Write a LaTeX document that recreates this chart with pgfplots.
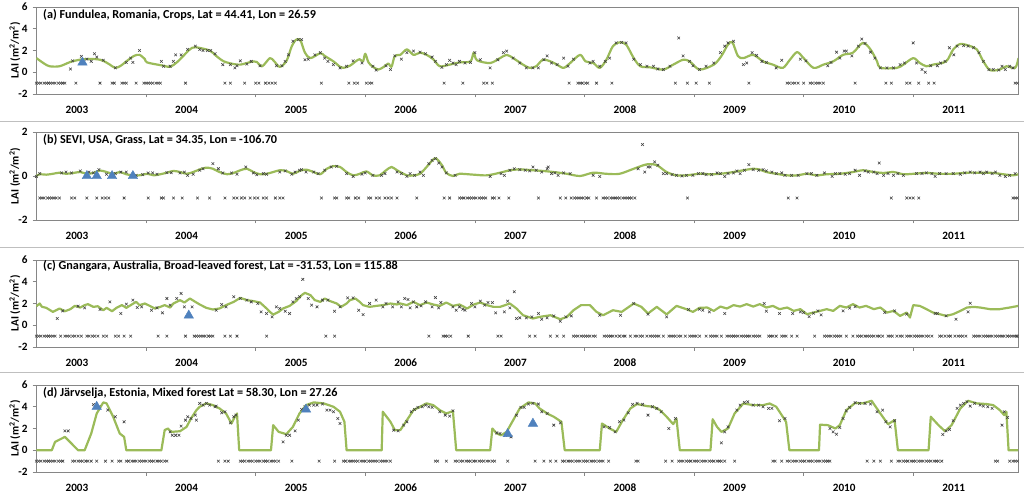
\documentclass[border=0pt]{standalone}
\usepackage{fontspec}
\setmainfont{Carlito}
\usepackage{pgfplots}
\pgfplotsset{compat=1.18}

\definecolor{lgreen}{HTML}{9BBB59}
\definecolor{tblue}{HTML}{4F81BD}
\definecolor{xgray}{HTML}{404040}
\definecolor{axgray}{HTML}{868686}
\definecolor{sepgray}{HTML}{BFBFBF}

\newcommand\ticfont{\fontsize{11.2}{12}\selectfont\bfseries}
\newcommand\ttlfont{\fontsize{12.2}{14}\selectfont\bfseries}

\pgfplotsset{
  panel/.style={
    scale only axis, width=982pt, height=87pt,
    xmin=2002.626, xmax=2011.586,
    axis line style={axgray, line width=0.6pt},
    tick pos=left, tick align=outside,
    major tick length=0pt, minor tick length=3.5pt,
    tick style={axgray, line width=0.6pt},
    xtick={2003,2004,2005,2006,2007,2008,2009,2010,2011},
    xticklabels={2003,2004,2005,2006,2007,2008,2009,2010,2011},
    minor xtick={2003.63,2004.63,2005.63,2006.63,2007.63,2008.63,2009.63,2010.63},
    xticklabel style={font=\ticfont, yshift=-8.5pt},
    yticklabel style={font=\ticfont, xshift=-5pt},
    ylabel={LAI (m\textsuperscript{2}/m\textsuperscript{2})},
    every axis y label/.style={at={(axis description cs:0,0.5)}, xshift=-21pt,
      rotate=90, anchor=center, font=\fontsize{11.2}{13}\selectfont\bfseries},
    anchor=south west,
  },
  lai/.style={lgreen, line width=2.2pt, no marks, line join=round},
  obs/.style={only marks, mark=x, mark size=1.9pt, mark options={xgray, line width=0.55pt}},
  tri/.style={only marks, mark=triangle*, mark size=5.5pt, mark options={fill=tblue, draw=tblue}},
}

\begin{document}
\begin{tikzpicture}

% ---------------- (a) ----------------
\begin{axis}[panel, at={(36pt,399pt)},
  ymin=-2, ymax=6, ytick={-2,0,2,4,6}, yticklabels={-2,0,2,4,6}, minor ytick={-2,0,2,4,6}]
\addplot[lai, smooth, tension=0.5] coordinates {
(2002.63,1.3)(2002.70,0.8)(2002.75,0.55)(2002.84,0.55)(2002.94,0.95)(2003.00,1.1)(2003.06,1.2)
(2003.18,1.2)(2003.24,1.05)(2003.30,0.7)(2003.35,0.4)(2003.40,0.6)(2003.45,1.0)(2003.52,1.5)
(2003.57,1.6)(2003.62,1.2)(2003.64,0.9)(2003.79,0.6)(2003.85,0.5)(2003.91,0.9)(2003.97,1.5)
(2004.03,2.1)(2004.08,2.3)(2004.21,2.0)(2004.27,1.5)(2004.34,1.0)(2004.43,0.75)(2004.49,0.7)
(2004.55,0.85)(2004.61,1.0)(2004.64,0.95)(2004.69,0.55)(2004.76,1.3)(2004.80,1.0)(2004.85,0.5)
(2004.91,1.0)(2004.96,2.4)(2005.00,3.0)(2005.04,2.9)(2005.08,1.8)(2005.13,1.3)(2005.22,1.75)
(2005.26,1.5)(2005.34,1.0)(2005.40,0.5)(2005.43,0.4)(2005.49,0.6)(2005.55,1.05)(2005.58,1.2)
(2005.61,1.0)(2005.63,1.7)(2005.66,0.9)(2005.70,0.5)(2005.75,0.25)(2005.80,0.5)(2005.84,0.8)
(2005.87,0.5)(2005.90,1.5)(2005.95,1.6)(2006.01,2.1)(2006.07,1.6)(2006.13,1.8)(2006.19,1.6)
(2006.25,1.2)(2006.31,0.55)(2006.40,0.7)(2006.49,0.9)(2006.59,1.0)(2006.62,1.8)(2006.65,1.1)
(2006.77,0.85)(2006.86,1.3)(2006.92,1.6)(2006.98,1.3)(2007.07,0.7)(2007.13,0.4)(2007.19,0.55)
(2007.25,1.15)(2007.32,1.0)(2007.38,0.7)(2007.44,0.4)(2007.50,0.85)(2007.59,1.6)(2007.64,1.0)
(2007.71,0.85)(2007.77,0.4)(2007.83,1.15)(2007.89,2.4)(2007.95,2.75)(2008.01,2.55)(2008.08,1.3)
(2008.14,0.55)(2008.23,0.45)(2008.35,0.25)(2008.44,0.7)(2008.53,1.15)(2008.59,1.0)(2008.68,0.25)
(2008.81,0.7)(2008.88,1.5)(2008.94,2.55)(2008.98,2.75)(2009.03,1.5)(2009.08,1.3)(2009.17,1.6)
(2009.26,1.0)(2009.35,0.7)(2009.44,0.4)(2009.505,1.15)(2009.57,1.85)(2009.63,1.3)(2009.72,0.4)
(2009.81,0.7)(2009.90,1.0)(2009.99,1.6)(2010.08,1.8)(2010.17,2.7)(2010.24,2.1)(2010.30,1.0)
(2010.33,0.4)(2010.48,0.4)(2010.54,0.7)(2010.63,1.3)(2010.69,0.85)(2010.75,0.55)(2010.81,0.7)
(2010.93,1.0)(2010.995,2.1)(2011.06,2.6)(2011.15,2.4)(2011.21,2.1)(2011.27,1.0)(2011.33,0.2)
(2011.42,0.25)(2011.48,0.55)(2011.56,0.4)(2011.59,1.3)
};
\addplot[obs] coordinates {
(2002.94,0.3)(2002.96,1.05)(2003.04,1.45)(2003.09,1.2)(2003.13,1.0)(2003.16,1.7)(2003.18,1.4)
(2003.24,1.1)(2003.35,0.4)(2003.45,0.9)(2003.49,1.3)(2003.51,0.9)(2003.57,2.0)(2003.77,1.0)
(2003.79,0.55)(2003.85,0.55)(2003.88,1.0)(2003.90,1.6)(2003.95,1.6)(2004.01,2.1)(2004.08,2.4)
(2004.12,2.1)(2004.15,2.0)(2004.19,2.0)(2004.22,2.0)(2004.26,1.7)(2004.33,0.7)(2004.40,0.7)
(2004.44,0.4)(2004.46,0.6)(2004.49,1.05)(2004.55,0.75)(2004.59,1.0)(2004.67,0.6)(2004.82,0.6)
(2004.87,0.6)(2004.90,1.0)(2004.93,1.6)(2004.97,2.85)(2005.02,3.0)(2005.05,3.0)(2005.08,1.15)
(2005.11,1.2)(2005.17,1.6)(2005.22,1.8)(2005.26,1.3)(2005.29,1.0)(2005.34,0.7)(2005.40,0.4)
(2005.46,0.55)(2005.52,1.05)(2005.60,0.85)(2005.70,0.55)(2005.73,0.2)(2005.82,0.6)(2005.86,0.25)
(2005.90,1.5)(2005.96,1.2)(2006.01,1.8)(2006.07,1.95)(2006.13,1.85)(2006.18,1.7)(2006.24,1.4)
(2006.27,1.0)(2006.33,0.45)(2006.37,0.7)(2006.40,1.1)(2006.43,0.85)(2006.46,0.7)(2006.49,1.0)
(2006.54,0.85)(2006.59,0.9)(2006.63,1.8)(2006.68,1.15)(2006.77,0.4)(2006.84,1.15)(2006.89,1.8)
(2006.92,1.95)(2006.98,1.3)(2007.04,0.85)(2007.10,0.4)(2007.16,0.4)(2007.21,0.4)(2007.26,1.15)
(2007.29,1.5)(2007.33,0.85)(2007.38,0.7)(2007.44,1.3)(2007.48,0.55)(2007.53,1.2)(2007.68,0.85)
(2007.71,1.0)(2007.77,0.55)(2007.82,1.0)(2007.86,1.3)(2007.92,2.7)(2007.97,2.75)(2008.01,2.7)
(2008.08,1.2)(2008.14,0.7)(2008.20,0.55)(2008.26,0.55)(2008.30,0.3)(2008.35,0.25)(2008.41,0.55)
(2008.49,3.15)(2008.53,1.5)(2008.59,1.0)(2008.62,0.6)(2008.68,0.25)(2008.74,0.55)(2008.81,0.85)
(2008.87,1.8)(2008.91,2.4)(2008.94,2.7)(2008.99,2.85)(2009.08,0.7)(2009.11,0.85)(2009.16,1.8)
(2009.20,1.55)(2009.25,1.0)(2009.29,0.9)(2009.38,0.4)(2009.43,1.1)(2009.60,1.2)(2009.65,1.05)
(2009.85,0.6)(2009.88,0.9)(2009.93,1.85)(2009.96,1.3)(2010.00,1.95)(2010.02,1.95)(2010.07,1.5)
(2010.13,2.4)(2010.16,3.05)(2010.19,2.65)(2010.24,1.85)(2010.28,1.3)(2010.33,0.4)(2010.39,0.4)
(2010.45,0.4)(2010.51,0.7)(2010.55,0.85)(2010.63,2.7)(2010.66,0.85)(2010.71,0.25)(2010.74,0.0)
(2010.79,0.6)(2010.85,0.6)(2010.88,0.85)(2010.92,1.0)(2010.96,2.25)(2011.00,1.6)(2011.03,2.4)
(2011.09,2.45)(2011.13,2.4)(2011.18,2.25)(2011.23,1.8)(2011.27,1.0)(2011.32,0.25)(2011.36,0.25)
(2011.41,0.2)(2011.44,0.55)(2011.47,0.25)(2011.51,0.55)(2011.54,0.4)
};
\addplot[obs] coordinates {
(2002.63,-1)(2002.65,-1)(2002.67,-1)(2002.70,-1)(2002.72,-1)(2002.74,-1)(2002.76,-1)(2002.78,-1)
(2002.80,-1)(2002.83,-1)(2002.85,-1)(2002.87,-1)(2002.89,-1)(2002.99,-1)(2003.21,-1)(2003.32,-1)
(2003.34,-1)(2003.41,-1)(2003.43,-1)(2003.45,-1)(2003.54,-1)(2003.61,-1)(2003.63,-1)(2003.65,-1)
(2003.67,-1)(2003.69,-1)(2003.72,-1)(2003.74,-1)(2003.76,-1)(2003.99,-1)(2004.35,-1)(2004.40,-1)
(2004.53,-1)(2004.63,-1)(2004.66,-1)(2004.72,-1)(2004.75,-1)(2004.78,-1)(2004.81,-1)(2005.23,-1)
(2005.48,-1)(2005.53,-1)(2005.56,-1)(2005.64,-1)(2005.67,-1)(2005.69,-1)(2006.35,-1)(2006.52,-1)
(2006.71,-1)(2006.74,-1)(2006.79,-1)(2007.49,-1)(2007.57,-1)(2007.59,-1)(2007.61,-1)(2007.64,-1)
(2007.66,-1)(2007.74,-1)(2007.88,-1)(2008.46,-1)(2008.57,-1)(2008.65,-1)(2008.77,-1)(2009.13,-1)
(2009.48,-1)(2009.50,-1)(2009.53,-1)(2009.55,-1)(2009.58,-1)(2009.63,-1)(2009.69,-1)(2009.71,-1)
(2009.74,-1)(2009.76,-1)(2009.78,-1)(2009.81,-1)(2010.10,-1)(2010.38,-1)(2010.43,-1)(2010.57,-1)
(2010.60,-1)(2010.68,-1)(2010.77,-1)(2010.82,-1)(2011.56,-1)(2011.58,-1)
};
\addplot[tri] coordinates {(2003.05,0.9)};
\node[anchor=west, inner sep=0pt, font=\ttlfont] at (rel axis cs:0,1) [xshift=7pt, yshift=-8pt]
  {(a) Fundulea, Romania, Crops, Lat = 44.41, Lon = 26.59};
\end{axis}

% ---------------- (b) ----------------
\begin{axis}[panel, at={(36pt,273pt)}, height=88pt,
  ymin=-2, ymax=2, ytick={-2,0,2}, yticklabels={-2,0,2}, minor ytick={-2,0,2}]
\addplot[lai, smooth, tension=0.5] coordinates {
(2002.63,0)(2002.66,0.08)(2002.72,0.06)(2002.78,0.1)(2002.84,0.15)(2002.90,0.1)(2002.97,0.14)
(2003.03,0.18)(2003.09,0.1)(2003.15,0.14)(2003.21,0.25)(2003.27,0.18)(2003.33,0.1)(2003.39,0.18)
(2003.45,0.08)(2003.51,0.03)(2003.57,0.03)(2003.64,0.1)(2003.70,0.03)(2003.76,0.08)(2003.82,0.15)
(2003.88,0.23)(2003.94,0.18)(2004.00,0.1)(2004.06,0.18)(2004.12,0.3)(2004.18,0.38)(2004.24,0.33)
(2004.30,0.18)(2004.37,0.08)(2004.43,0.14)(2004.49,0.26)(2004.55,0.33)(2004.61,0.18)(2004.67,0.08)
(2004.73,0.1)(2004.79,0.18)(2004.85,0.26)(2004.91,0.23)(2004.97,0.1)(2005.03,0.23)(2005.09,0.29)
(2005.16,0.18)(2005.22,0.08)(2005.28,0.33)(2005.34,0.45)(2005.40,0.41)(2005.46,0.18)(2005.52,0.03)
(2005.58,0.1)(2005.64,0.21)(2005.70,0.03)(2005.76,0.03)(2005.82,0.26)(2005.87,0.41)(2005.92,0.26)
(2006.01,0.03)(2006.07,0.03)(2006.13,0.1)(2006.19,0.41)(2006.25,0.75)(2006.28,0.79)(2006.33,0.49)
(2006.37,0.14)(2006.43,0.0)(2006.49,0.1)(2006.62,0.06)(2006.74,0.03)(2006.86,0.15)(2006.95,0.26)
(2007.04,0.3)(2007.16,0.26)(2007.25,0.23)(2007.35,0.18)(2007.47,0.1)(2007.59,0.0)(2007.71,0.15)
(2007.83,0.1)(2007.95,0.1)(2008.08,0.33)(2008.20,0.53)(2008.29,0.49)(2008.38,0.18)(2008.47,0.03)
(2008.56,0.03)(2008.68,0.1)(2008.78,0.08)(2008.87,0.1)(2008.99,0.18)(2009.08,0.26)(2009.17,0.33)
(2009.23,0.29)(2009.29,0.18)(2009.38,0.1)(2009.48,0.03)(2009.57,0.03)(2009.66,0.1)(2009.75,0.03)
(2009.84,0.08)(2009.96,0.1)(2010.08,0.18)(2010.17,0.26)(2010.27,0.18)(2010.36,0.14)(2010.45,0.18)
(2010.54,0.08)(2010.63,0.1)(2010.75,0.14)(2010.87,0.1)(2010.995,0.1)(2011.12,0.15)(2011.24,0.15)
(2011.36,0.14)(2011.45,0.08)(2011.54,0.03)(2011.59,0.08)
};
\addplot[obs] coordinates {
(2002.63,-0.02)(2002.66,0.11)(2002.86,0.14)(2002.90,0.18)(2002.95,0.14)(2003.03,0.23)(2003.11,0.18)
(2003.15,0.14)(2003.20,0.29)(2003.27,0.08)(2003.35,0.11)(2003.40,0.18)(2003.45,0.18)(2003.50,0.03)
(2003.54,0.03)(2003.60,0.06)(2003.65,0.14)(2003.69,0.14)(2003.73,0.08)(2003.82,0.15)(2003.86,0.15)
(2003.94,0.14)(2003.98,0.18)(2004.01,0.03)(2004.06,0.08)(2004.12,0.26)(2004.15,0.33)(2004.24,0.56)
(2004.29,0.33)(2004.33,0.14)(2004.41,0.14)(2004.46,0.08)(2004.54,0.41)(2004.61,0.14)(2004.64,0.06)
(2004.70,0.11)(2004.73,0.08)(2004.85,0.18)(2004.90,0.23)(2004.96,0.08)(2004.99,0.18)(2005.03,0.26)
(2005.05,0.29)(2005.09,0.18)(2005.16,0.18)(2005.20,0.11)(2005.26,0.26)(2005.32,0.41)(2005.37,0.44)
(2005.46,0.11)(2005.52,-0.02)(2005.60,0.08)(2005.63,0.14)(2005.70,0.03)(2005.78,0.03)(2005.81,0.11)
(2005.92,0.18)(2005.96,0.11)(2006.01,-0.02)(2006.04,0.11)(2006.08,0.03)(2006.13,0.18)(2006.16,0.03)
(2006.21,0.56)(2006.24,0.71)(2006.27,0.79)(2006.30,0.59)(2006.33,0.41)(2006.37,0.14)(2006.45,0.03)
(2006.77,-0.02)(2006.87,0.11)(2006.90,0.03)(2006.95,0.26)(2006.99,0.33)(2007.04,0.29)(2007.09,0.26)
(2007.13,0.23)(2007.16,0.41)(2007.19,0.26)(2007.24,0.18)(2007.29,0.33)(2007.30,0.41)(2007.33,0.11)
(2007.36,0.14)(2007.39,0.03)(2007.44,0.14)(2007.50,0.11)(2007.71,0.03)(2007.77,-0.02)(2008.12,0.33)
(2008.16,1.43)(2008.18,0.18)(2008.21,0.41)(2008.23,0.41)(2008.27,0.64)(2008.30,0.49)(2008.35,0.11)
(2008.38,0.11)(2008.43,0.06)(2008.47,0.03)(2008.52,0.0)(2008.56,0.03)(2008.62,0.03)(2008.67,0.11)
(2008.71,0.11)(2008.74,0.06)(2008.79,0.06)(2008.84,0.14)(2008.87,0.11)(2008.91,-0.02)(2008.94,0.11)
(2008.99,0.14)(2009.02,0.23)(2009.05,0.11)(2009.09,0.26)(2009.13,0.52)(2009.17,0.29)(2009.22,0.26)
(2009.26,0.29)(2009.29,0.23)(2009.34,0.18)(2009.38,0.11)(2009.43,0.14)(2009.46,0.03)(2009.52,0.03)
(2009.58,0.03)(2009.66,0.11)(2009.70,0.11)(2009.75,0.03)(2009.82,0.14)(2009.89,-0.02)(2009.92,0.11)
(2009.96,0.11)(2010.01,0.08)(2010.05,0.11)(2010.10,0.26)(2010.14,0.03)(2010.19,0.23)(2010.22,0.18)
(2010.27,0.18)(2010.30,0.11)(2010.32,0.59)(2010.36,0.03)(2010.40,0.11)(2010.45,0.03)(2010.49,0.11)
(2010.54,0.03)(2010.66,0.11)(2010.71,0.11)(2010.75,0.14)(2010.80,0.11)(2010.83,-0.02)(2010.87,0.11)
(2010.93,0.11)(2010.995,0.11)(2011.06,0.08)(2011.10,0.14)(2011.15,0.18)(2011.19,0.14)(2011.24,0.18)
(2011.27,0.11)(2011.30,0.18)(2011.35,0.11)(2011.38,0.18)(2011.42,0.03)(2011.47,-0.02)(2011.51,0.03)
(2011.56,0.11)
};
\addplot[obs] coordinates {
(2002.66,-1)(2002.68,-1)(2002.70,-1)(2002.73,-1)(2002.75,-1)(2002.77,-1)(2002.79,-1)(2002.81,-1)
(2002.84,-1)(2002.95,-1)(2002.98,-1)(2003.09,-1)(2003.18,-1)(2003.23,-1)(2003.26,-1)(2003.29,-1)
(2003.43,-1)(2003.65,-1)(2003.77,-1)(2003.79,-1)(2003.88,-1)(2003.96,-1)(2004.10,-1)(2004.21,-1)
(2004.35,-1)(2004.43,-1)(2004.46,-1)(2004.50,-1)(2004.53,-1)(2004.58,-1)(2004.62,-1)(2004.65,-1)
(2004.70,-1)(2004.73,-1)(2004.81,-1)(2004.85,-1)(2004.88,-1)(2005.23,-1)(2005.35,-1)(2005.37,-1)
(2005.46,-1)(2005.48,-1)(2005.54,-1)(2005.57,-1)(2005.66,-1)(2005.68,-1)(2005.73,-1)(2005.76,-1)
(2005.81,-1)(2005.84,-1)(2005.87,-1)(2005.92,-1)(2006.10,-1)(2006.35,-1)(2006.40,-1)(2006.49,-1)
(2006.51,-1)(2006.53,-1)(2006.56,-1)(2006.58,-1)(2006.60,-1)(2006.62,-1)(2006.64,-1)(2006.67,-1)
(2006.69,-1)(2006.71,-1)(2006.73,-1)(2006.79,-1)(2006.81,-1)(2006.85,-1)(2006.94,-1)(2007.21,-1)
(2007.41,-1)(2007.46,-1)(2007.51,-1)(2007.54,-1)(2007.56,-1)(2007.58,-1)(2007.60,-1)(2007.62,-1)
(2007.65,-1)(2007.67,-1)(2007.74,-1)(2007.80,-1)(2007.82,-1)(2007.84,-1)(2007.87,-1)(2007.89,-1)
(2007.91,-1)(2007.93,-1)(2007.95,-1)(2007.98,-1)(2008.00,-1)(2008.02,-1)(2008.04,-1)(2008.06,-1)
(2008.09,-1)(2008.57,-1)(2009.49,-1)(2009.57,-1)(2010.43,-1)(2010.57,-1)(2010.60,-1)(2010.63,-1)
(2010.68,-1)(2011.54,-1)(2011.56,-1)(2011.58,-1)
};
\addplot[tri] coordinates {(2003.09,0.0)(2003.18,0.0)(2003.32,0.0)(2003.51,0.0)};
\node[anchor=west, inner sep=0pt, font=\ttlfont] at (rel axis cs:0,1) [xshift=7pt, yshift=-7.5pt]
  {(b) SEVI, USA, Grass, Lat = 34.35, Lon = -106.70};
\end{axis}

% ---------------- (c) ----------------
\begin{axis}[panel, at={(36pt,146pt)},
  ymin=-2, ymax=6, ytick={-2,0,2,4,6}, yticklabels={-2,0,2,4,6}, minor ytick={-2,0,2,4,6}]
\addplot[lai] coordinates {
(2002.63,1.75)(2002.66,2.0)(2002.68,1.7)(2002.72,1.6)(2002.78,1.23)(2002.81,1.38)(2002.84,1.54)
(2002.89,1.29)(2002.94,1.48)(2002.98,1.78)(2003.03,1.63)(2003.07,1.85)(2003.10,1.94)(2003.15,1.69)
(2003.19,1.75)(2003.24,1.38)(2003.27,1.6)(2003.32,1.29)(2003.36,1.6)(2003.41,1.85)(2003.45,1.6)
(2003.50,1.91)(2003.54,2.15)(2003.57,1.85)(2003.62,2.0)(2003.67,1.75)(2003.71,1.54)(2003.76,1.69)
(2003.80,1.85)(2003.85,1.63)(2003.88,2.0)(2003.94,2.31)(2003.98,2.09)(2004.03,2.46)(2004.08,2.15)
(2004.12,1.91)(2004.18,1.6)(2004.24,1.45)(2004.30,1.54)(2004.36,1.85)(2004.43,2.15)(2004.49,2.52)
(2004.55,2.31)(2004.61,2.22)(2004.67,2.09)(2004.73,1.54)(2004.76,1.23)(2004.79,0.98)(2004.84,1.23)
(2004.88,1.54)(2004.94,1.78)(2005.00,2.22)(2005.05,2.77)(2005.08,2.98)(2005.13,2.77)(2005.17,2.31)
(2005.22,2.15)(2005.26,2.46)(2005.31,2.22)(2005.37,2.0)(2005.41,1.69)(2005.46,2.0)(2005.49,2.31)
(2005.54,2.46)(2005.58,2.15)(2005.61,1.85)(2005.67,1.69)(2005.73,1.78)(2005.79,1.85)(2005.86,2.0)
(2005.92,1.91)(2005.95,2.0)(2006.01,1.85)(2006.07,2.15)(2006.13,1.85)(2006.19,2.09)(2006.25,1.91)
(2006.31,1.78)(2006.37,2.09)(2006.43,1.78)(2006.49,1.91)(2006.56,1.54)(2006.62,1.91)(2006.68,2.09)
(2006.74,1.85)(2006.80,1.69)(2006.86,1.69)(2006.95,2.0)(2007.01,1.54)(2007.07,0.92)(2007.16,0.62)
(2007.22,0.77)(2007.32,0.92)(2007.41,0.55)(2007.47,0.77)(2007.53,1.38)(2007.60,1.85)(2007.68,1.85)
(2007.74,1.23)(2007.80,0.92)(2007.89,1.38)(2007.97,1.23)(2008.08,2.0)(2008.15,1.69)(2008.21,1.08)
(2008.29,1.69)(2008.38,1.0)(2008.47,1.78)(2008.56,1.48)(2008.62,1.23)(2008.68,1.6)(2008.75,1.63)
(2008.81,1.32)(2008.87,1.72)(2008.93,1.54)(2008.99,1.85)(2009.05,1.72)(2009.11,1.94)(2009.17,1.72)
(2009.23,1.94)(2009.29,1.63)(2009.35,1.78)(2009.41,1.48)(2009.48,1.63)(2009.54,1.32)(2009.60,1.48)
(2009.66,1.02)(2009.72,1.17)(2009.78,1.32)(2009.84,1.48)(2009.90,1.32)(2009.96,1.78)(2010.02,1.63)
(2010.08,1.94)(2010.14,1.63)(2010.20,1.78)(2010.27,1.48)(2010.33,1.63)(2010.39,1.17)(2010.45,1.32)
(2010.51,0.86)(2010.57,1.17)(2010.60,0.71)(2010.63,1.85)(2010.69,1.78)(2010.75,1.48)(2010.81,1.17)
(2010.87,1.02)(2010.93,0.86)(2010.995,1.02)(2011.06,1.32)(2011.12,1.63)(2011.18,1.69)(2011.24,1.63)
(2011.33,1.48)(2011.42,1.48)(2011.51,1.63)(2011.59,1.78)
};
\addplot[obs] coordinates {
(2002.82,0.62)(2002.87,1.32)(2003.01,1.75)(2003.07,1.6)(2003.21,1.45)(2003.30,2.15)(2003.40,1.08)
(2003.45,1.94)(2003.51,2.31)(2003.55,1.63)(2003.59,1.69)(2003.68,1.38)(2003.73,1.6)(2003.78,1.14)
(2003.82,2.46)(2003.85,1.85)(2003.91,2.46)(2003.95,2.92)(2003.98,1.69)(2004.05,1.69)(2004.27,1.38)
(2004.32,1.91)(2004.36,1.69)(2004.43,2.62)(2004.49,2.46)(2004.55,2.31)(2004.59,2.15)(2004.65,2.0)
(2004.68,1.23)(2004.73,1.08)(2004.78,0.77)(2004.82,1.69)(2004.85,1.54)(2004.90,1.29)(2004.94,1.08)
(2004.97,2.15)(2005.00,2.46)(2005.03,2.62)(2005.06,4.22)(2005.11,2.46)(2005.14,1.85)(2005.19,1.69)
(2005.24,2.31)(2005.29,2.31)(2005.35,1.29)(2005.40,1.69)(2005.47,2.52)(2005.52,2.52)(2005.57,1.38)
(2005.61,0.98)(2005.67,2.0)(2005.73,2.31)(2005.79,1.69)(2005.82,2.0)(2005.88,1.69)(2005.93,2.15)
(2005.96,1.69)(2005.99,2.46)(2006.02,2.37)(2006.04,1.6)(2006.07,2.15)(2006.10,1.69)(2006.14,1.78)
(2006.18,2.15)(2006.24,1.69)(2006.27,2.55)(2006.30,1.6)(2006.32,2.09)(2006.43,1.69)(2006.46,1.38)
(2006.49,1.69)(2006.52,1.48)(2006.54,1.38)(2006.60,2.0)(2006.63,1.69)(2006.68,2.22)(2006.72,1.85)
(2006.75,2.09)(2006.79,2.09)(2006.82,1.14)(2006.90,1.23)(2006.93,2.22)(2006.95,1.6)(2006.99,3.08)
(2007.01,0.62)(2007.04,0.68)(2007.10,0.68)(2007.15,0.77)(2007.21,1.08)(2007.24,0.55)(2007.29,0.68)
(2007.35,0.86)(2007.41,0.37)(2007.46,0.77)(2007.51,0.86)(2007.77,0.92)(2007.96,0.92)(2008.08,2.0)
(2008.21,1.02)(2008.38,0.77)(2008.58,1.45)(2008.68,1.48)(2008.71,1.38)(2008.77,1.23)(2008.91,1.08)
(2009.27,2.0)(2009.29,1.29)(2009.41,1.08)(2009.53,1.08)(2009.60,1.23)(2009.63,1.17)(2009.68,0.8)
(2009.72,1.11)(2009.76,1.32)(2009.79,0.95)(2009.99,1.32)(2010.05,1.57)(2010.10,1.72)(2010.37,1.17)
(2010.46,1.32)(2010.57,1.02)(2010.83,1.08)(2010.85,1.08)(2010.93,0.86)(2011.02,0.55)(2011.13,1.23)
(2011.15,2.03)
};
\addplot[obs] coordinates {
(2002.63,-1)(2002.65,-1)(2002.67,-1)(2002.70,-1)(2002.72,-1)(2002.74,-1)(2002.76,-1)(2002.78,-1)
(2002.80,-1)(2002.85,-1)(2002.89,-1)(2002.91,-1)(2002.93,-1)(2002.96,-1)(2002.98,-1)(2003.01,-1)
(2003.04,-1)(2003.09,-1)(2003.11,-1)(2003.14,-1)(2003.16,-1)(2003.19,-1)(2003.24,-1)(2003.27,-1)
(2003.35,-1)(2003.38,-1)(2003.43,-1)(2003.49,-1)(2003.74,-1)(2003.82,-1)(2003.99,-1)(2004.07,-1)
(2004.09,-1)(2004.11,-1)(2004.13,-1)(2004.15,-1)(2004.17,-1)(2004.20,-1)(2004.22,-1)(2004.24,-1)
(2004.35,-1)(2004.40,-1)(2004.46,-1)(2004.73,-1)(2005.27,-1)(2005.35,-1)(2006.21,-1)(2006.34,-1)
(2006.36,-1)(2006.38,-1)(2006.41,-1)(2006.57,-1)(2006.84,-1)(2006.87,-1)(2007.13,-1)(2007.18,-1)
(2007.32,-1)(2007.38,-1)(2007.44,-1)(2007.53,-1)(2007.55,-1)(2007.57,-1)(2007.60,-1)(2007.62,-1)
(2007.64,-1)(2007.66,-1)(2007.68,-1)(2007.71,-1)(2007.73,-1)(2007.81,-1)(2007.83,-1)(2007.85,-1)
(2007.87,-1)(2007.89,-1)(2007.92,-1)(2007.95,-1)(2007.98,-1)(2008.00,-1)(2008.05,-1)(2008.09,-1)
(2008.11,-1)(2008.14,-1)(2008.16,-1)(2008.20,-1)(2008.23,-1)(2008.25,-1)(2008.27,-1)(2008.29,-1)
(2008.31,-1)(2008.35,-1)(2008.40,-1)(2008.42,-1)(2008.44,-1)(2008.46,-1)(2008.49,-1)(2008.51,-1)
(2008.55,-1)(2008.59,-1)(2008.61,-1)(2008.63,-1)(2008.65,-1)(2008.68,-1)(2008.74,-1)(2008.78,-1)
(2008.80,-1)(2008.82,-1)(2008.84,-1)(2008.88,-1)(2008.93,-1)(2008.95,-1)(2008.97,-1)(2008.99,-1)
(2009.01,-1)(2009.03,-1)(2009.06,-1)(2009.08,-1)(2009.10,-1)(2009.12,-1)(2009.14,-1)(2009.17,-1)
(2009.19,-1)(2009.21,-1)(2009.23,-1)(2009.31,-1)(2009.33,-1)(2009.35,-1)(2009.38,-1)(2009.43,-1)
(2009.45,-1)(2009.47,-1)(2009.52,-1)(2009.57,-1)(2009.73,-1)(2009.82,-1)(2009.84,-1)(2009.86,-1)
(2009.88,-1)(2009.91,-1)(2009.93,-1)(2009.95,-1)(2009.97,-1)(2010.02,-1)(2010.08,-1)(2010.12,-1)
(2010.14,-1)(2010.16,-1)(2010.19,-1)(2010.21,-1)(2010.23,-1)(2010.25,-1)(2010.27,-1)(2010.30,-1)
(2010.32,-1)(2010.35,-1)(2010.40,-1)(2010.42,-1)(2010.44,-1)(2010.48,-1)(2010.51,-1)(2010.53,-1)
(2010.57,-1)(2010.59,-1)(2010.61,-1)(2010.64,-1)(2010.66,-1)(2010.68,-1)(2010.70,-1)(2010.72,-1)
(2010.75,-1)(2010.77,-1)(2010.80,-1)(2010.87,-1)(2010.89,-1)(2010.92,-1)(2010.95,-1)(2010.97,-1)
(2011.01,-1)(2011.04,-1)(2011.06,-1)(2011.08,-1)(2011.11,-1)(2011.18,-1)(2011.20,-1)(2011.22,-1)
(2011.24,-1)(2011.27,-1)(2011.29,-1)(2011.31,-1)(2011.33,-1)(2011.35,-1)(2011.38,-1)(2011.40,-1)
(2011.42,-1)(2011.44,-1)(2011.46,-1)(2011.49,-1)(2011.51,-1)(2011.53,-1)(2011.55,-1)(2011.57,-1)
(2011.58,-1)
};
\addplot[tri] coordinates {(2004.02,0.9)};
\node[anchor=west, inner sep=0pt, font=\ttlfont] at (rel axis cs:0,1) [xshift=7pt, yshift=-6.5pt]
  {(c) Gnangara, Australia, Broad-leaved forest, Lat = -31.53, Lon = 115.88};
\end{axis}

% ---------------- (d) ----------------
\begin{axis}[panel, at={(36pt,21pt)},
  ymin=-2, ymax=6, ytick={-2,0,2,4,6}, yticklabels={-2,0,2,4,6}, minor ytick={-2,0,2,4,6}]
\addplot[lai] coordinates {
(2002.63,0)(2002.77,0)(2002.80,0.77)(2002.89,1.23)(2002.98,0.31)(2003.01,0)(2003.07,0)(2003.13,1.54)
(2003.18,3.38)(2003.24,4.4)(2003.27,4.31)(2003.33,3.08)(2003.39,1.54)(2003.43,1.23)(2003.45,0)
(2003.77,0)(2003.80,1.85)(2003.83,2.0)(2003.86,1.69)(2003.94,1.75)(2004.00,2.15)(2004.04,2.92)
(2004.09,3.69)(2004.12,4.0)(2004.18,4.31)(2004.24,4.15)(2004.30,3.85)(2004.36,3.38)(2004.41,2.46)
(2004.44,3.08)(2004.46,3.38)(2004.48,0)(2004.77,0)(2004.79,2.31)(2004.84,1.69)(2004.91,1.48)
(2004.97,2.15)(2005.03,3.38)(2005.09,4.15)(2005.16,4.4)(2005.25,4.31)(2005.34,4.0)(2005.40,3.54)
(2005.44,2.62)(2005.46,0)(2005.78,0)(2005.79,3.54)(2005.86,2.62)(2005.90,1.85)(2005.95,1.85)
(2006.01,2.77)(2006.07,3.69)(2006.13,4.0)(2006.19,4.31)(2006.25,4.15)(2006.31,3.69)(2006.37,3.38)
(2006.43,3.6)(2006.46,0)(2006.77,0)(2006.79,2.0)(2006.83,1.54)(2006.87,1.38)(2006.92,1.69)
(2006.98,2.77)(2007.04,3.85)(2007.12,4.4)(2007.18,4.31)(2007.22,3.85)(2007.29,3.38)(2007.35,3.08)
(2007.42,2.62)(2007.45,0)(2007.77,0)(2007.79,2.46)(2007.86,2.0)(2007.92,1.69)(2007.98,2.77)
(2008.05,3.85)(2008.11,4.25)(2008.20,4.06)(2008.26,4.0)(2008.32,3.69)(2008.38,3.08)(2008.44,2.4)
(2008.47,2.9)(2008.50,0)(2008.78,0)(2008.80,2.85)(2008.84,2.15)(2008.88,1.69)(2008.94,2.0)
(2009.00,3.38)(2009.08,4.3)(2009.17,4.15)(2009.26,4.15)(2009.32,4.3)(2009.38,4.0)(2009.44,3.08)
(2009.47,2.6)(2009.50,0)(2009.77,0)(2009.78,2.35)(2009.85,2.31)(2009.92,2.0)(2009.96,2.31)
(2010.02,3.69)(2010.10,4.35)(2010.17,4.31)(2010.25,4.55)(2010.33,3.38)(2010.40,2.4)(2010.46,2.77)
(2010.49,0)(2010.77,0)(2010.79,3.08)(2010.86,2.31)(2010.92,1.75)(2010.98,2.31)(2011.06,3.85)
(2011.13,4.55)(2011.21,4.31)(2011.30,4.25)(2011.36,4.15)(2011.42,3.69)(2011.46,3.23)(2011.48,3.54)
(2011.50,0)(2011.59,0)
};
\addplot[obs] coordinates {
(2002.89,1.78)(2002.92,1.78)(2003.15,4.2)(2003.20,4.0)(2003.28,3.7)(2003.35,3.08)(2003.43,2.62)
(2003.85,1.69)(2003.87,1.38)(2003.90,1.38)(2003.93,1.38)(2003.95,2.22)(2003.99,2.77)(2004.01,3.08)
(2004.04,2.92)(2004.08,3.23)(2004.09,2.77)(2004.12,4.31)(2004.15,4.15)(2004.18,4.31)(2004.21,4.15)
(2004.26,4.0)(2004.27,4.06)(2004.32,3.45)(2004.35,3.54)(2004.40,2.52)(2004.43,3.08)(2004.45,3.23)
(2004.88,0.77)(2004.91,1.38)(2004.94,1.38)(2004.99,1.78)(2005.02,2.77)(2005.05,3.75)(2005.08,4.0)
(2005.12,4.15)(2005.16,4.15)(2005.19,4.15)(2005.24,4.25)(2005.28,3.69)(2005.31,3.69)(2005.34,3.54)
(2005.38,2.92)(2005.40,2.46)(2005.89,1.85)(2005.93,1.78)(2005.98,2.31)(2006.01,2.62)(2006.05,3.54)
(2006.08,3.75)(2006.11,3.94)(2006.15,4.0)(2006.18,4.15)(2006.21,4.0)(2006.24,3.94)(2006.31,3.54)
(2006.36,3.23)(2006.40,3.14)(2006.43,3.63)(2006.83,1.6)(2006.86,1.54)(2006.91,1.38)(2006.96,1.23)
(2007.01,3.23)(2007.05,3.94)(2007.08,3.94)(2007.12,4.25)(2007.16,4.31)(2007.21,4.25)(2007.24,3.54)
(2007.29,3.38)(2007.35,2.31)(2007.41,2.52)(2007.81,2.15)(2007.86,2.09)(2007.91,1.69)(2007.95,2.62)
(2007.99,2.77)(2008.03,3.45)(2008.07,4.22)(2008.11,4.31)(2008.16,4.22)(2008.21,3.23)(2008.25,4.0)
(2008.29,3.85)(2008.33,3.54)(2008.40,2.0)(2008.46,2.92)(2008.88,0.68)(2008.91,1.69)(2008.94,2.15)
(2009.02,3.69)(2009.05,4.15)(2009.09,4.4)(2009.12,4.46)(2009.17,4.15)(2009.22,4.15)(2009.26,4.0)
(2009.31,3.85)(2009.34,3.85)(2009.41,2.71)(2009.46,2.92)(2009.87,2.0)(2009.90,1.69)(2009.93,1.48)
(2009.96,2.09)(2009.99,2.92)(2010.02,3.63)(2010.05,3.94)(2010.10,4.37)(2010.14,4.31)(2010.19,4.31)
(2010.24,4.25)(2010.30,3.54)(2010.35,3.69)(2010.38,2.62)(2010.42,2.15)(2010.46,2.71)(2010.90,1.45)
(2010.93,1.78)(2010.96,1.91)(2010.995,2.71)(2011.03,3.85)(2011.06,4.15)(2011.09,4.31)(2011.12,4.46)
(2011.15,4.06)(2011.19,4.31)(2011.24,4.15)(2011.27,4.06)(2011.31,4.0)(2011.35,3.85)(2011.44,2.31)
(2011.46,3.54)(2011.49,3.02)
};
\addplot[obs] coordinates {
(2002.63,-1)(2002.65,-1)(2002.67,-1)(2002.70,-1)(2002.72,-1)(2002.74,-1)(2002.76,-1)(2002.78,-1)
(2002.80,-1)(2002.83,-1)(2002.85,-1)(2002.87,-1)(2002.96,-1)(2002.98,-1)(2003.01,-1)(2003.03,-1)
(2003.05,-1)(2003.08,-1)(2003.10,-1)(2003.13,-1)(2003.18,-1)(2003.26,-1)(2003.32,-1)(2003.38,-1)
(2003.40,-1)(2003.45,-1)(2003.47,-1)(2003.50,-1)(2003.52,-1)(2003.54,-1)(2003.57,-1)(2003.59,-1)
(2003.61,-1)(2003.63,-1)(2003.66,-1)(2003.68,-1)(2003.70,-1)(2003.73,-1)(2003.75,-1)(2003.77,-1)
(2003.80,-1)(2003.82,-1)(2004.29,-1)(2004.35,-1)(2004.38,-1)(2004.49,-1)(2004.51,-1)(2004.53,-1)
(2004.56,-1)(2004.58,-1)(2004.60,-1)(2004.63,-1)(2004.65,-1)(2004.67,-1)(2004.70,-1)(2004.72,-1)
(2004.74,-1)(2004.77,-1)(2004.79,-1)(2004.81,-1)(2004.84,-1)(2004.96,-1)(2005.21,-1)(2005.35,-1)
(2005.43,-1)(2005.45,-1)(2005.48,-1)(2005.50,-1)(2005.52,-1)(2005.54,-1)(2005.56,-1)(2005.59,-1)
(2005.61,-1)(2005.63,-1)(2005.66,-1)(2005.68,-1)(2005.70,-1)(2005.72,-1)(2005.74,-1)(2005.77,-1)
(2005.79,-1)(2005.81,-1)(2005.83,-1)(2005.86,-1)(2006.27,-1)(2006.29,-1)(2006.37,-1)(2006.45,-1)
(2006.47,-1)(2006.50,-1)(2006.52,-1)(2006.55,-1)(2006.57,-1)(2006.59,-1)(2006.62,-1)(2006.64,-1)
(2006.67,-1)(2006.69,-1)(2006.71,-1)(2006.74,-1)(2006.76,-1)(2006.79,-1)(2006.81,-1)(2006.93,-1)
(2007.18,-1)(2007.26,-1)(2007.32,-1)(2007.37,-1)(2007.43,-1)(2007.45,-1)(2007.48,-1)(2007.50,-1)
(2007.52,-1)(2007.55,-1)(2007.57,-1)(2007.59,-1)(2007.62,-1)(2007.64,-1)(2007.66,-1)(2007.69,-1)
(2007.71,-1)(2007.73,-1)(2007.76,-1)(2007.78,-1)(2007.80,-1)(2007.85,-1)(2008.10,-1)(2008.12,-1)
(2008.37,-1)(2008.43,-1)(2008.49,-1)(2008.51,-1)(2008.53,-1)(2008.56,-1)(2008.58,-1)(2008.60,-1)
(2008.63,-1)(2008.65,-1)(2008.67,-1)(2008.70,-1)(2008.72,-1)(2008.74,-1)(2008.77,-1)(2008.79,-1)
(2008.81,-1)(2008.84,-1)(2008.86,-1)(2008.88,-1)(2008.91,-1)(2009.00,-1)(2009.35,-1)(2009.37,-1)
(2009.43,-1)(2009.48,-1)(2009.50,-1)(2009.53,-1)(2009.55,-1)(2009.57,-1)(2009.60,-1)(2009.62,-1)
(2009.64,-1)(2009.67,-1)(2009.69,-1)(2009.71,-1)(2009.74,-1)(2009.76,-1)(2009.78,-1)(2009.81,-1)
(2009.83,-1)(2009.85,-1)(2009.87,-1)(2010.21,-1)(2010.27,-1)(2010.33,-1)(2010.43,-1)(2010.49,-1)
(2010.51,-1)(2010.54,-1)(2010.56,-1)(2010.58,-1)(2010.61,-1)(2010.63,-1)(2010.65,-1)(2010.68,-1)
(2010.70,-1)(2010.72,-1)(2010.75,-1)(2010.77,-1)(2010.79,-1)(2010.82,-1)(2010.84,-1)(2010.86,-1)
(2010.89,-1)(2011.38,-1)(2011.40,-1)(2011.51,-1)(2011.54,-1)(2011.56,-1)(2011.58,-1)
};
\addplot[tri] coordinates {(2003.18,4.0)(2005.09,3.75)(2006.93,1.5)(2007.16,2.45)};
\node[anchor=west, inner sep=0pt, font=\ttlfont] at (rel axis cs:0,1) [xshift=7pt, yshift=-7.7pt]
  {(d) Järvselja, Estonia, Mixed forest Lat = 58.30, Lon = 27.26};
\end{axis}

% panel separators
\draw[sepgray, line width=0.8pt] (0pt,371.5pt) -- (1024pt,371.5pt);
\draw[sepgray, line width=0.8pt] (0pt,245.5pt) -- (1024pt,245.5pt);
\draw[sepgray, line width=0.8pt] (0pt,120.3pt) -- (1024pt,120.3pt);

\pgfresetboundingbox
\path[use as bounding box] (0pt,0pt) rectangle (1024pt,493pt);
\end{tikzpicture}
\end{document}
